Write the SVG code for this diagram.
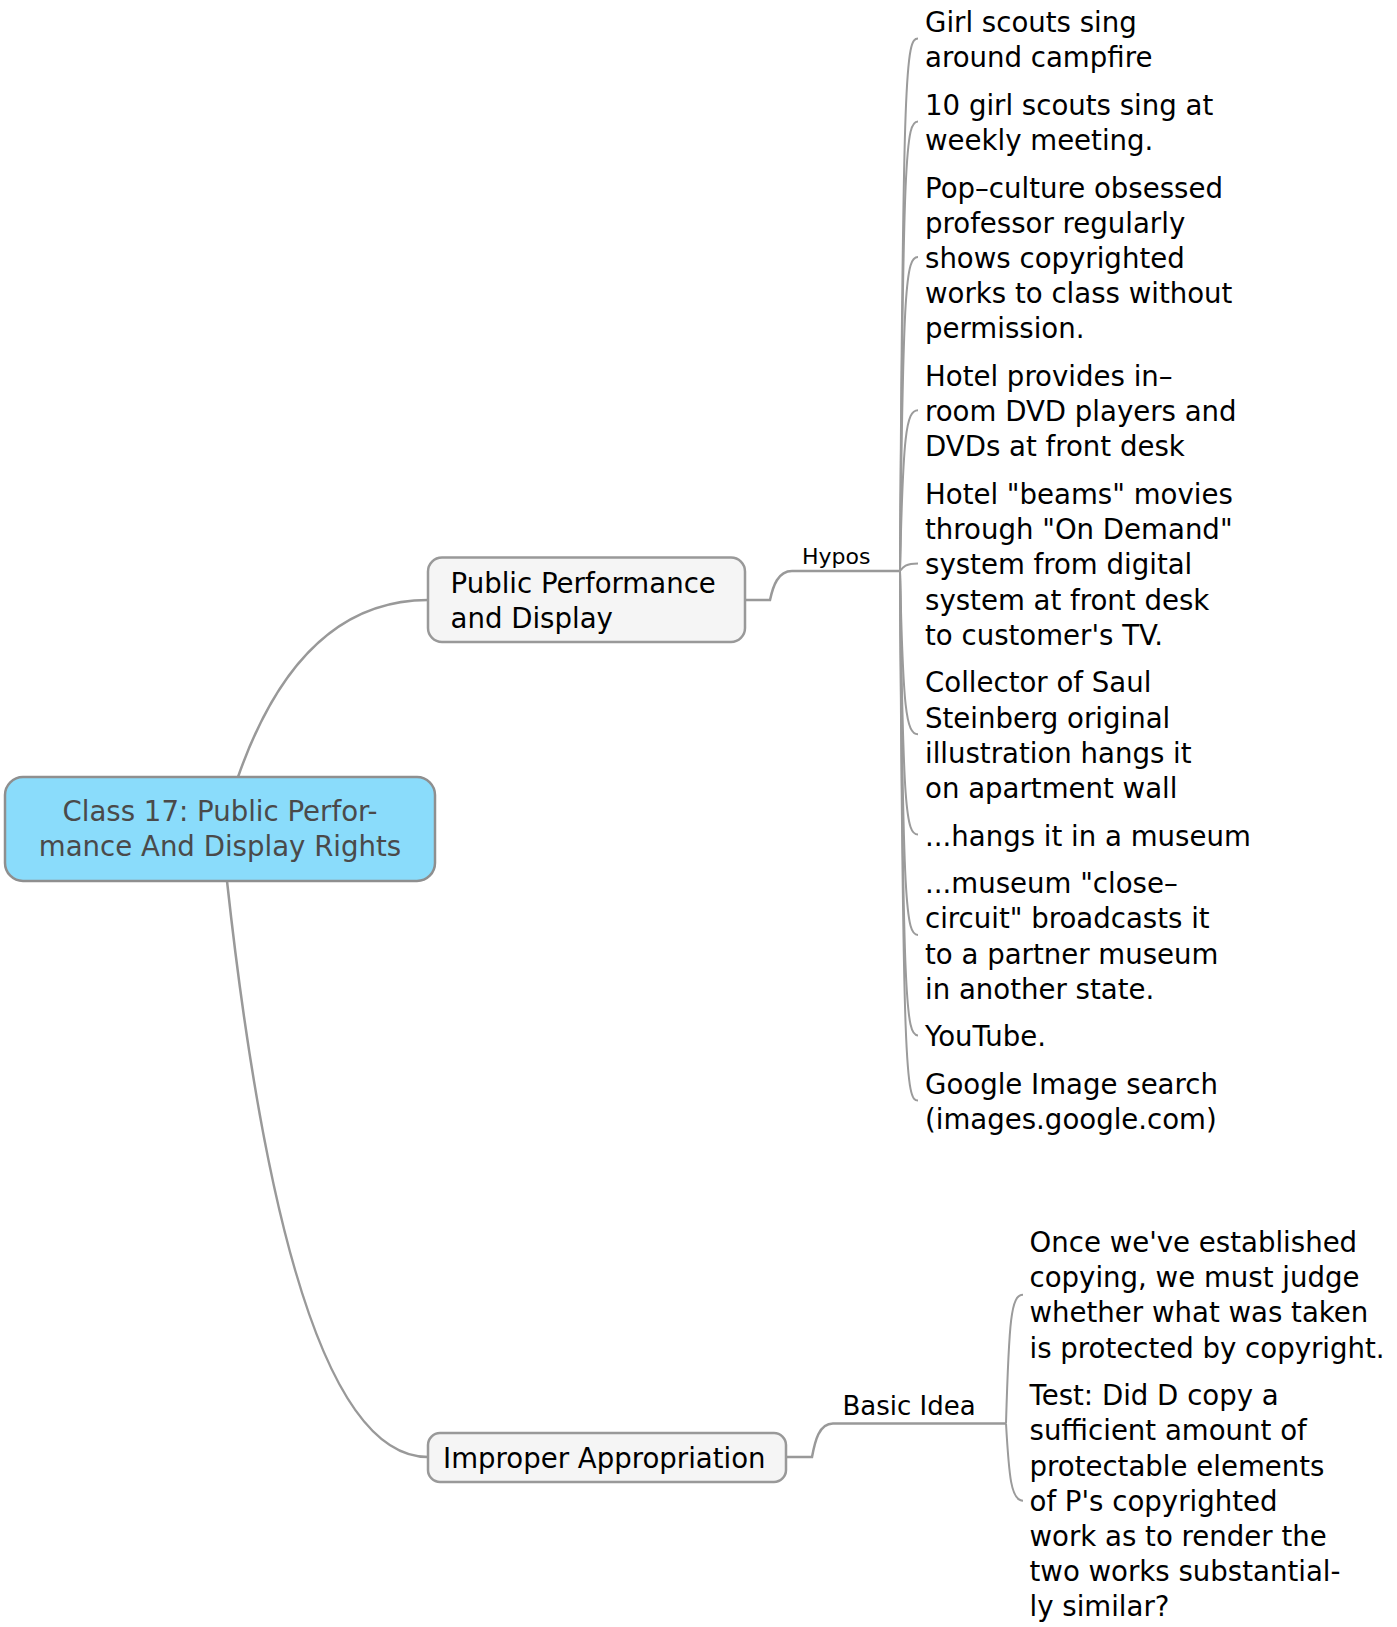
<svg xmlns="http://www.w3.org/2000/svg" width="1397" height="1627" viewBox="0 0 1397 1627">
<style>
.bg{fill:#ffffff}
.conn{fill:none;stroke:#999999;stroke-width:2.5}
.sub{fill:none;stroke:#9b9b9b;stroke-width:2}
.root{fill:#8adcfb;stroke:#8f8f8f;stroke-width:2.5}
.main{fill:#f5f5f5;stroke:#999999;stroke-width:2.5}
text{font-family:"DejaVu Sans","Verdana",sans-serif;fill:#000000}
.t27{font-size:27.6px}
.rt{font-size:27.6px;fill:#4a4a4a;text-anchor:middle}
.lbl22{font-size:22px}
.lbl26{font-size:26px}
</style>
<rect class="bg" x="0" y="0" width="1397" height="1627"/>
<g id="connectors">
<path class="conn" d="M238,777 Q300,600 428,600"/>
<path class="conn" d="M227,881 Q290,1457 428,1457"/>
<path class="conn" d="M745,600 H770 C773,586 778,571 792,571 H900"/>
<path class="conn" d="M786,1457 H812 C815,1441 819,1423.5 833,1423.5 H1006"/>
<path class="sub" d="M900,571 C903,64 906,38.6 918,38.6"/>
<path class="sub" d="M900,571 C903,146 906,121.4 918,121.4"/>
<path class="sub" d="M900,571 C903,282 906,257 918,257"/>
<path class="sub" d="M900,571 C903,435 906,410.2 918,410.2"/>
<path class="sub" d="M900,571 C903,567 906,563.4 918,563.4"/>
<path class="sub" d="M900,571 C903,709 906,734.2 918,734.2"/>
<path class="sub" d="M900,571 C903,810 906,834.6 918,834.6"/>
<path class="sub" d="M900,571 C903,910 906,935 918,935"/>
<path class="sub" d="M900,571 C903,1010 906,1035.4 918,1035.4"/>
<path class="sub" d="M900,571 C903,1076 906,1100.6 918,1100.6"/>
<path class="sub" d="M1006,1423.5 C1009,1320 1011,1294.8 1023,1294.8"/>
<path class="sub" d="M1006,1423.5 C1009,1476 1011,1500.8 1023,1500.8"/>
</g>
<g id="root">
<rect class="root" x="5" y="777" width="430" height="104" rx="18"/>
<text class="rt" x="220" y="821">Class 17: Public Perfor-</text>
<text class="rt" x="220" y="856">mance And Display Rights</text>
</g>
<g id="public-performance">
<rect class="main" x="428" y="557.5" width="317" height="84.5" rx="14"/>
<text class="t27" x="450.5" y="593">Public Performance</text>
<text class="t27" x="450.5" y="627.5">and Display</text>
</g>
<g id="improper-appropriation">
<rect class="main" x="428" y="1433" width="358" height="49" rx="12"/>
<text class="t27" x="443" y="1468">Improper Appropriation</text>
</g>
<g id="hypos">
<text class="lbl22" x="802" y="564">Hypos</text>
</g>
<g id="basic-idea">
<text class="lbl26" x="842.5" y="1415">Basic Idea</text>
</g>
<g id="hypo-1">
<text class="t27" x="925" y="32"><tspan x="925">Girl scouts sing</tspan><tspan x="925" dy="35.2">around campfire</tspan></text>
</g>
<g id="hypo-2">
<text class="t27" x="925" y="114.8"><tspan x="925">10 girl scouts sing at</tspan><tspan x="925" dy="35.2">weekly meeting.</tspan></text>
</g>
<g id="hypo-3">
<text class="t27" x="925" y="197.6"><tspan x="925">Pop–culture obsessed</tspan><tspan x="925" dy="35.2">professor regularly</tspan><tspan x="925" dy="35.2">shows copyrighted</tspan><tspan x="925" dy="35.2">works to class without</tspan><tspan x="925" dy="35.2">permission.</tspan></text>
</g>
<g id="hypo-4">
<text class="t27" x="925" y="386"><tspan x="925">Hotel provides in–</tspan><tspan x="925" dy="35.2">room DVD players and</tspan><tspan x="925" dy="35.2">DVDs at front desk</tspan></text>
</g>
<g id="hypo-5">
<text class="t27" x="925" y="504"><tspan x="925">Hotel "beams" movies</tspan><tspan x="925" dy="35.2">through "On Demand"</tspan><tspan x="925" dy="35.2">system from digital</tspan><tspan x="925" dy="35.2">system at front desk</tspan><tspan x="925" dy="35.2">to customer's TV.</tspan></text>
</g>
<g id="hypo-6">
<text class="t27" x="925" y="692.4"><tspan x="925">Collector of Saul</tspan><tspan x="925" dy="35.2">Steinberg original</tspan><tspan x="925" dy="35.2">illustration hangs it</tspan><tspan x="925" dy="35.2">on apartment wall</tspan></text>
</g>
<g id="hypo-7">
<text class="t27" x="925" y="845.6">...hangs it in a museum</text>
</g>
<g id="hypo-8">
<text class="t27" x="925" y="893.2"><tspan x="925">...museum "close–</tspan><tspan x="925" dy="35.2">circuit" broadcasts it</tspan><tspan x="925" dy="35.2">to a partner museum</tspan><tspan x="925" dy="35.2">in another state.</tspan></text>
</g>
<g id="hypo-9">
<text class="t27" x="925" y="1046.4">YouTube.</text>
</g>
<g id="hypo-10">
<text class="t27" x="925" y="1094"><tspan x="925">Google Image search</tspan><tspan x="925" dy="35.2">(images.google.com)</tspan></text>
</g>
<g id="basic-1">
<text class="t27" x="1029.5" y="1252"><tspan x="1029.5">Once we've established</tspan><tspan x="1029.5" dy="35.2">copying, we must judge</tspan><tspan x="1029.5" dy="35.2">whether what was taken</tspan><tspan x="1029.5" dy="35.2">is protected by copyright.</tspan></text>
</g>
<g id="basic-2">
<text class="t27" x="1029.5" y="1405.2"><tspan x="1029.5">Test: Did D copy a</tspan><tspan x="1029.5" dy="35.2">sufficient amount of</tspan><tspan x="1029.5" dy="35.2">protectable elements</tspan><tspan x="1029.5" dy="35.2">of P's copyrighted</tspan><tspan x="1029.5" dy="35.2">work as to render the</tspan><tspan x="1029.5" dy="35.2">two works substantial-</tspan><tspan x="1029.5" dy="35.2">ly similar?</tspan></text>
</g>
</svg>
